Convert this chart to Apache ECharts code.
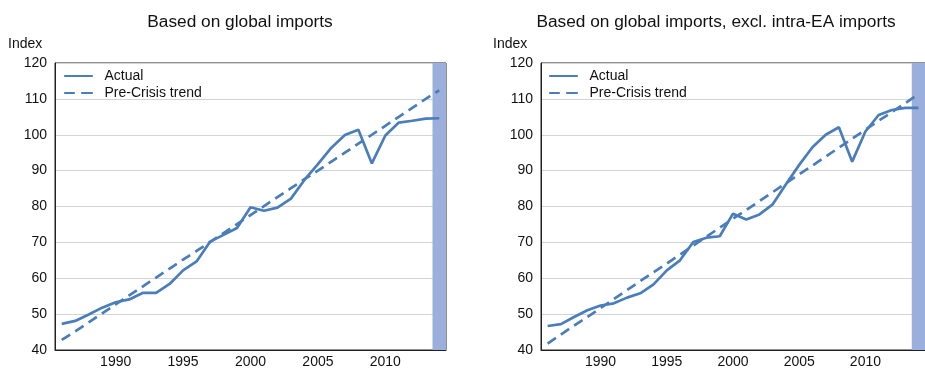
<!DOCTYPE html>
<html>
<head>
<meta charset="utf-8">
<script src="https://cdn.jsdelivr.net/npm/echarts@6/dist/echarts.min.js"></script>
<style>
  html, body { margin: 0; padding: 0; background: #fff; }
  #main { width: 925px; height: 369px; }
</style>
</head>
<body>
<div id="main"></div>
<script>
// 年份
var years = ['1986','1987','1988','1989','1990','1991','1992','1993','1994','1995','1996','1997','1998','1999','2000',
	'2001','2002','2003','2004','2005','2006','2007','2008','2009','2010','2011','2012','2013','2014'];

// 左图: Based on global imports
var actualGlobal = [47.3, 48.1, 49.9, 51.8, 53.3, 54.1, 55.9, 55.9, 58.4, 62.2, 64.7, 70.2, 72.1, 74.0, 79.8,
	78.8, 79.7, 82.2, 87.4, 91.8, 96.4, 99.9, 101.4, 92.0, 99.8, 103.4, 103.9, 104.5, 104.6];
var trendGlobal = [42.8, 45.2, 47.7, 50.2, 52.7, 55.2, 57.7, 60.2, 62.7, 65.2, 67.6, 70.1, 72.6, 75.1, 77.6,
	80.1, 82.6, 85.1, 87.6, 90.0, 92.5, 95.0, 97.5, 100.0, 102.5, 105.0, 107.5, 110.0, 112.4];

// 右图: excl. intra-EA imports
var actualExEA = [46.7, 47.2, 49.2, 51.1, 52.4, 53.0, 54.6, 55.8, 58.3, 62.2, 65.0, 70.1, 71.3, 71.7, 78.0,
	76.4, 77.8, 80.6, 86.2, 91.6, 96.5, 100.0, 102.1, 92.5, 100.9, 105.5, 106.9, 107.5, 107.5];
var trendExEA = [41.8, 44.3, 46.8, 49.2, 51.7, 54.2, 56.7, 59.2, 61.7, 64.1, 66.6, 69.1, 71.6, 74.1, 76.6,
	79.0, 81.5, 84.0, 86.5, 89.0, 91.4, 93.9, 96.4, 98.9, 101.4, 103.9, 106.3, 108.8, 111.3];

// 阴影区 (最后一年)
var shadeYears = ['2014'];
var shadeTop = 120;

var titles = ['Based on global imports', 'Based on global imports, excl. intra-EA imports'];
var yTicks = { min: 40, max: 120, interval: 10 };

var FONT = 'Liberation Sans, Arial, sans-serif';
var BLUE = '#4A7EBB';
var SHADE = '#9AAFDB';

var myChart = echarts.init(document.getElementById('main'));

function shadeData() {
	return years.map(function (y) { return shadeYears.indexOf(y) >= 0 ? shadeTop : '-'; });
}

function xAxisFor(gi) {
	return {
		type: 'category',
		gridIndex: gi,
		data: years,
		boundaryGap: true,
		axisLine: { lineStyle: { color: '#222', width: 1 } },
		axisTick: { inside: true, length: 3, interval: 0, lineStyle: { color: '#222' } },
		axisLabel: {
			color: '#111', fontSize: 14, fontFamily: FONT, margin: 5,
			interval: function (idx, val) { return Number(val) % 5 === 0; }
		},
		splitLine: { show: false }
	};
}

function yAxisFor(gi) {
	return {
		type: 'value',
		gridIndex: gi,
		min: yTicks.min, max: yTicks.max, interval: yTicks.interval,
		axisLine: { show: true, lineStyle: { color: '#222', width: 1 } },
		axisTick: { show: false },
		axisLabel: { color: '#111', fontSize: 14, fontFamily: FONT, margin: 8 },
		splitLine: { show: true, lineStyle: { color: '#d4d4d4', width: 1 } }
	};
}

function seriesFor(gi, actual, trend) {
	return [
		{
			name: 'shade', type: 'bar', xAxisIndex: gi, yAxisIndex: gi,
			data: shadeData(), barWidth: '100%', barGap: '-100%',
			itemStyle: { color: SHADE }, silent: true, z: 1
		},
		{
			name: 'Actual', type: 'line', xAxisIndex: gi, yAxisIndex: gi,
			data: actual, symbol: 'none', z: 3,
			lineStyle: { color: BLUE, width: 2.7 }, itemStyle: { color: BLUE }
		},
		{
			name: 'Pre-Crisis trend', type: 'line', xAxisIndex: gi, yAxisIndex: gi,
			data: trend, symbol: 'none', z: 3,
			lineStyle: { color: BLUE, width: 2.7, type: [10, 6] }, itemStyle: { color: BLUE }
		}
	];
}

function legendFor(left) {
	return {
		orient: 'vertical', left: left, top: 64,
		data: [
			{ name: 'Actual', icon: 'path://M0,0H28V1H0Z' },
			{ name: 'Pre-Crisis trend', icon: 'path://M0,0H10V1H0Z M17,0H28V1H17Z' }
		],
		itemWidth: 28, itemHeight: 3, itemGap: 3,
		itemStyle: { color: BLUE, borderColor: BLUE, borderWidth: 1 },
		textStyle: { color: '#111', fontSize: 14, fontFamily: FONT, padding: [0, 0, 0, 7], lineHeight: 14 },
		selectedMode: false
	};
}

myChart.setOption({
	backgroundColor: '#fff',
	animation: false,
	title: [
		{ text: titles[0], left: 235, top: 9, textAlign: 'center',
			textStyle: { fontSize: 17.3, fontWeight: 'normal', color: '#111', fontFamily: FONT } },
		{ text: titles[1], left: 711, top: 9, textAlign: 'center',
			textStyle: { fontSize: 17.3, fontWeight: 'normal', color: '#111', fontFamily: FONT } }
	],
	graphic: [
		{ type: 'text', left: 8, top: 37, style: { text: 'Index', fontSize: 14, fontFamily: FONT, fill: '#111' } },
		{ type: 'text', left: 493, top: 37, style: { text: 'Index', fontSize: 14, fontFamily: FONT, fill: '#111' } }
	],
	legend: [legendFor(59), legendFor(544)],
	grid: [
		{ left: 55, top: 63, width: 391, height: 291, show: true, borderColor: '#222', borderWidth: 1 },
		{ left: 541, top: 63, width: 390, height: 291, show: true, borderColor: '#222', borderWidth: 1 }
	],
	xAxis: [xAxisFor(0), xAxisFor(1)],
	yAxis: [yAxisFor(0), yAxisFor(1)],
	series: seriesFor(0, actualGlobal, trendGlobal).concat(seriesFor(1, actualExEA, trendExEA))
});
</script>
</body>
</html>
